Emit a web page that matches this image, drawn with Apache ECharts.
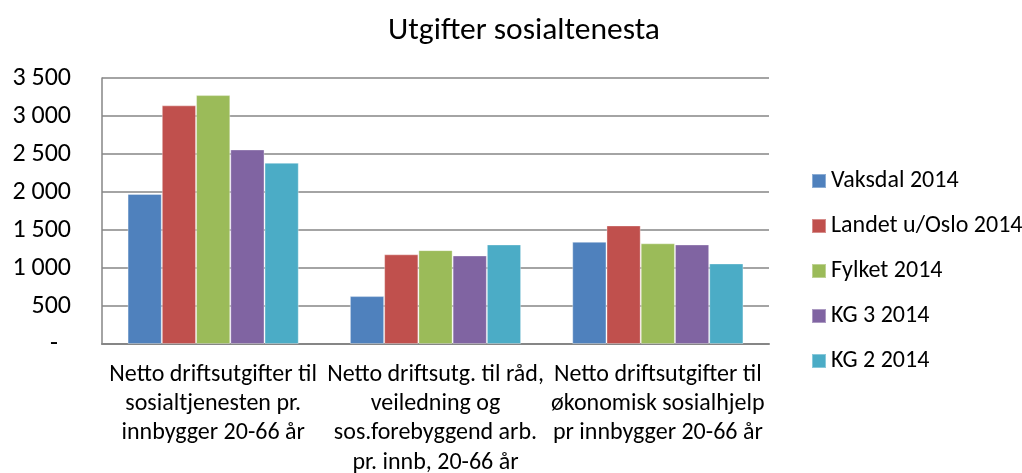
<!DOCTYPE html>
<html>
<head>
<meta charset="utf-8">
<script src="https://cdn.jsdelivr.net/npm/echarts@6/dist/echarts.min.js"></script>
<style>
html,body{margin:0;padding:0;background:#fff;}
#chart{width:1022px;height:473px;}
</style>
</head>
<body>
<div id="chart"></div>
<script>
const categories = [
  "Netto driftsutgifter til\nsosialtjenesten pr.\ninnbygger 20-66 år",
  "Netto driftsutg. til råd,\nveiledning og\nsos.forebyggend arb.\npr. innb, 20-66 år",
  "Netto driftsutgifter til\nøkonomisk sosialhjelp\npr innbygger 20-66 år"
];
const seriesNames = ["Vaksdal 2014", "Landet u/Oslo 2014", "Fylket 2014", "KG 3 2014", "KG 2 2014"];
const vaksdal = [1975, 630, 1345];
const landet = [3140, 1180, 1560];
const fylket = [3275, 1235, 1325];
const kg3 = [2560, 1165, 1310];
const kg2 = [2385, 1310, 1060];
const colors = ["#4F81BD", "#C0504D", "#9BBB59", "#8064A2", "#4BACC6"];
const yTicks = { min: 0, max: 3500, interval: 500 };

const FONT = "Carlito, Lato, 'Open Sans', sans-serif";
const values = [vaksdal, landet, fylket, kg3, kg2];

const chart = echarts.init(document.getElementById('chart'), null, { renderer: 'canvas' });
chart.setOption({
  animation: false,
  backgroundColor: '#ffffff',
  color: colors,
  title: {
    text: 'Utgifter sosialtenesta',
    left: 519,
    top: 10,
    textAlign: 'center',
    textStyle: { fontFamily: FONT, fontSize: 31.5, fontWeight: 'normal', color: '#000' }
  },
  legend: {
    orient: 'vertical',
    left: 811,
    top: 169,
    padding: 0,
    itemWidth: 14,
    itemHeight: 14,
    itemGap: 21,
    icon: 'rect',
    data: seriesNames,
    textStyle: { fontFamily: FONT, fontSize: 24, lineHeight: 24, color: '#000' }
  },
  grid: { left: 102, right: 253, top: 78, bottom: 129, containLabel: false, outerBoundsMode: 'none' },
  xAxis: {
    type: 'category',
    data: categories,
    axisLine: { show: true, lineStyle: { color: '#868686', width: 2 } },
    axisTick: { show: false },
    axisLabel: {
      interval: 0,
      margin: 16,
      fontFamily: FONT,
      fontSize: 24,
      lineHeight: 29.3,
      color: '#000'
    }
  },
  yAxis: {
    type: 'value',
    min: yTicks.min,
    max: yTicks.max,
    interval: yTicks.interval,
    axisLine: { show: true, lineStyle: { color: '#868686', width: 1.5 } },
    axisTick: { show: false },
    splitLine: { show: true, lineStyle: { color: '#868686', width: 1.5 } },
    axisLabel: {
      margin: 31,
      fontFamily: FONT,
      fontSize: 26,
      color: '#000',
      formatter: function (v) {
        if (v === 0) return '{d|-}';
        return String(v).replace(/\B(?=(\d{3})+(?!\d))/g, ' ');
      },
      rich: { d: { fontFamily: FONT, fontSize: 26, color: '#000', padding: [0, 13, 0, 0] } }
    }
  },
  series: seriesNames.map(function (name, i) {
    return {
      name: name,
      type: 'bar',
      data: values[i],
      barGap: '0%',
      barCategoryGap: '23%',
      itemStyle: { color: colors[i], borderColor: 'rgba(255,255,255,0.35)', borderWidth: 1 }
    };
  })
});
</script>
</body>
</html>
